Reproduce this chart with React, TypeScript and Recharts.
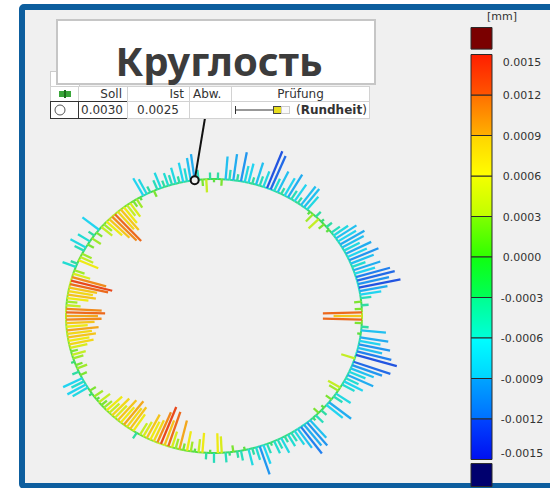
import React from "react";
import {
  ScatterChart,
  Scatter,
  XAxis,
  YAxis,
  ReferenceLine,
  ReferenceArea,
  BarChart,
  Bar,
} from "recharts";

// Abweichung vom Nennkreis [mm], alle 1.5°, im Uhrzeigersinn ab 12 Uhr
const devQ1 = [
  0.0001, -0.0002, 0.0002, -0.0007, -0.0003, -0.0008, -0.0002, -0.0009, -0.0005, -0.0006,
  -0.0002, -0.0007, -0.0003, -0.0005, -0.0012, -0.0011, -0.0004, -0.0007, -0.0002, -0.0006,
  -0.0008, -0.0003, -0.0006, -0.0002, -0.0007, -0.0007, -0.0005, 0.0001, 0.0003, -0.0002,
  0.0004, -0.0001, 0.0002, -0.0002, 0.0001, -0.0003, -0.0005, -0.0007, -0.0006, -0.0008,
  -0.0007, -0.0005, -0.0008, -0.0006, -0.0009, -0.0007, -0.0004, -0.0008, -0.0006, -0.001,
  -0.0011, -0.0009, -0.0012, -0.0008, -0.0006, -0.0003, 0.0002, -0.0002, 0.0002, 0.0011,
];
const devQ2 = [
  0.0008, 0.0011, 0.0002, -0.0002, -0.0007, 0.0001, -0.0008, -0.0006, -0.0009, -0.0007,
  -0.001, -0.0012, 0.0004, -0.0011, -0.0009, -0.0007, -0.0005, -0.0008, -0.0004, -0.0006,
  -0.0004, 0.0004, 0.0003, -0.0005, -0.0003, 0.0002, -0.0008, -0.0006, 0.0001, -0.0002,
  0.0002, -0.0003, -0.0001, -0.0007, -0.0009, -0.0008, -0.001, -0.0007, -0.0005, -0.0003,
  -0.0004, -0.0002, -0.0005, -0.0003, -0.0004, -0.0001, -0.0003, -0.0006, -0.0009, -0.0004,
  -0.0002, -0.0005, 0.0001, -0.0003, -0.0002, 0.0002, -0.0001, -0.0003, 0.0005, 0.0006,
];
const devQ3 = [
  -0.0003, 0.0001, -0.0002, 0.0006, 0.0004, 0.0001, 0.0003, 0.0006, 0.0002, 0.0009,
  0.0003, 0.0005, 0.0011, 0.0008, 0.0012, 0.001, 0.0007, 0.0006, 0.0008, 0.0005,
  0.0004, -0.0002, 0.0006, 0.0008, 0.0007, 0.0009, 0.0006, 0.0008, 0.0005, 0.0007,
  0.0004, 0.0006, 0.0003, 0.0002, 0.0004, 0.0001, 0.0003, -0.0001, 0.0002, -0.0005,
  -0.0006, -0.0004, -0.0006, 0.0002, -0.0002, 0.0003, 0.0002, -0.0001, 0.0003, 0.0004,
  0.0002, 0.0005, 0.0007, 0.0006, 0.0008, 0.0007, 0.0009, 0.0006, 0.0008, 0.001,
];
const devQ4 = [
  0.0009, 0.0011, 0.001, 0.0004, 0.0003, 0.0006, 0.0008, 0.0007, 0.0008, 0.0011,
  0.0012, 0.001, 0.0005, 0.0003, -0.0004, -0.0002, 0.0006, 0.0004, 0.0003, -0.0003,
  -0.0005, 0.0002, -0.0004, 0.0003, -0.0002, 0.0002, -0.0006, 0.0004, 0.0003, 0.0006,
  0.0008, 0.001, 0.0011, 0.0007, 0.0008, 0.0006, 0.0004, 0.0005, 0.0002, 0.0003,
  0.0001, -0.0006, -0.0005, -0.0002, 0.0002, -0.0003, -0.0005, -0.0002, -0.0004, -0.0003,
  -0.0005, -0.0002, -0.0006, -0.0004, -0.0007, -0.0008, -0.0003, 0.0002, 0.0004, -0.0002,
];
const ANGLE_STEP = 1.5;
const PROBE_ANGLE = 352.5;

const scaleTicks = [0.0015, 0.0012, 0.0009, 0.0006, 0.0003, 0, -0.0003, -0.0006, -0.0009, -0.0012, -0.0015];
const SCALE_STEP = 0.0003;
const overRange = [0.00154, 0.0017];
const underRange = [-0.00153, -0.0017];

const tolSoll = "0.0030";
const tolIst = "0.0025";

// layout
const W = 550;
const H = 488;
const PLOT_W = 450;
const CX = 214;
const CY = 316;
const RX = 148;
const RY = 137;
const GAIN = 240;
const ZERO_Y = 257;
const STEP_PX = 40.5;
const FONT = "'DejaVu Sans', Verdana, sans-serif";

const spikeStops: [number, string][] = [
  [0.0012, "#e8481c"],
  [0.001, "#f08a1c"],
  [0.0008, "#f4c41c"],
  [0.0006, "#eeea14"],
  [0.0004, "#c4ee24"],
  [0.0002, "#7ce432"],
  [0, "#3edc52"],
  [-0.0002, "#2edca4"],
  [-0.0004, "#22dcd2"],
  [-0.0006, "#22d4f0"],
  [-0.0008, "#22acf0"],
  [-0.001, "#2280ee"],
  [-0.0012, "#2254e0"],
];

const segColors = [
  ["#ff1e00", "#ff5500"],
  ["#ff7000", "#ffb000"],
  ["#ffd400", "#ffff00"],
  ["#f4ff00", "#c0ff00"],
  ["#80ff00", "#30ff00"],
  ["#10ff10", "#00ff58"],
  ["#00ff90", "#00ffd8"],
  ["#00ffff", "#00d4ff"],
  ["#00a4ff", "#0070ff"],
  ["#0044ff", "#0010f0"],
];

const toRgb = (h: string) => [1, 3, 5].map((i) => parseInt(h.slice(i, i + 2), 16));

function devColor(d: number) {
  const s = spikeStops;
  if (d >= s[0][0]) return s[0][1];
  if (d <= s[s.length - 1][0]) return s[s.length - 1][1];
  for (let i = 0; i < s.length - 1; i++) {
    const [v0, c0] = s[i];
    const [v1, c1] = s[i + 1];
    if (d <= v0 && d >= v1) {
      const t = (v0 - d) / (v0 - v1);
      const a = toRgb(c0);
      const b = toRgb(c1);
      return `rgb(${a.map((x, k) => Math.round(x + (b[k] - x) * t)).join(",")})`;
    }
  }
  return s[0][1];
}

const polar = (deg: number, r: number) => {
  const a = (deg * Math.PI) / 180;
  return { x: r * Math.sin(a), y: r * Math.cos(a) };
};

function RoundnessPlot() {
  const deviations = [...devQ1, ...devQ2, ...devQ3, ...devQ4];
  const spikes = deviations.map((d, i) => ({
    d,
    base: polar(i * ANGLE_STEP, 1),
    tip: polar(i * ANGLE_STEP, 1 - GAIN * d),
  }));
  const probe = polar(PROBE_ANGLE, 1);
  const leaderEnd = { x: (205 - CX) / RX, y: (CY - 118) / RY };

  return (
    <ScatterChart width={PLOT_W} height={H} margin={{ top: 0, right: 0, bottom: 0, left: 0 }}>
      <XAxis type="number" dataKey="x" domain={[-CX / RX, (PLOT_W - CX) / RX]} allowDataOverflow hide />
      <YAxis type="number" dataKey="y" domain={[(CY - H) / RY, CY / RY]} allowDataOverflow hide />
      {spikes.map((s, i) => {
        const n = spikes[(i + 1) % spikes.length];
        return (
          <ReferenceLine
            key={`r${i}`}
            segment={[s.base, n.base]}
            stroke={devColor((s.d + n.d) * 0.18)}
            strokeWidth={2}
          />
        );
      })}
      {spikes.map((s, i) => (
        <ReferenceLine key={`s${i}`} segment={[s.base, s.tip]} stroke={devColor(s.d)} strokeWidth={2.3} />
      ))}
      <ReferenceLine segment={[probe, leaderEnd]} stroke="#111" strokeWidth={2} />
      <Scatter
        data={[probe]}
        isAnimationActive={false}
        shape={(p: any) => <circle cx={p.cx} cy={p.cy} r={4} fill="#f0f0f0" stroke="#111" strokeWidth={2} />}
      />
    </ScatterChart>
  );
}

function ScaleTick(props: any) {
  const { x, y, payload } = props;
  const v = payload.value as number;
  const nudge = v >= 0.0015 ? 7 : v <= -0.0015 ? -7 : 0;
  return (
    <text x={x + 30} y={y + nudge} dy={4} textAnchor="middle" fontFamily={FONT} fontSize={11} fill="#333">
      {v.toFixed(4)}
    </text>
  );
}

function ColorScale() {
  const segments = scaleTicks.slice(0, -1).map((top, i) => ({
    key: `seg${i}`,
    top,
    value: top > 0 ? SCALE_STEP : -SCALE_STEP,
    colors: segColors[i],
  }));
  const order = [...segments].sort(
    (a, b) => Math.abs(a.top - SCALE_STEP / 2) - Math.abs(b.top - SCALE_STEP / 2)
  );
  const row: any = { name: "mm" };
  segments.forEach((s) => (row[s.key] = s.value));
  const yMax = (ZERO_Y / STEP_PX) * SCALE_STEP;
  const yMin = yMax - (H / STEP_PX) * SCALE_STEP;

  return (
    <BarChart
      width={100}
      height={H}
      data={[row]}
      stackOffset="sign"
      barCategoryGap={0}
      margin={{ top: 0, right: 0, bottom: 0, left: 21 }}
    >
      <defs>
        {segments.map((s) => (
          <linearGradient key={s.key} id={`g-${s.key}`} x1="0" y1="0" x2="0" y2="1">
            <stop offset="0%" stopColor={s.colors[0]} />
            <stop offset="100%" stopColor={s.colors[1]} />
          </linearGradient>
        ))}
      </defs>
      <XAxis dataKey="name" hide />
      <YAxis
        orientation="right"
        type="number"
        domain={[yMin, yMax]}
        allowDataOverflow
        ticks={scaleTicks}
        interval={0}
        width={58}
        axisLine={false}
        tickLine={false}
        tickSize={0}
        tickMargin={0}
        tick={(p: any) => <ScaleTick {...p} />}
      />
      {order.map((s) => (
        <Bar
          key={s.key}
          dataKey={s.key}
          stackId="scale"
          fill={`url(#g-${s.key})`}
          stroke="#2a2a2a"
          strokeWidth={1}
          isAnimationActive={false}
        />
      ))}
      <ReferenceArea y1={overRange[0]} y2={overRange[1]} fill="#7a0000" fillOpacity={1} stroke="#2a2a2a" ifOverflow="visible" />
      <ReferenceArea y1={underRange[0]} y2={underRange[1]} fill="#00006e" fillOpacity={1} stroke="#2a2a2a" ifOverflow="visible" />
    </BarChart>
  );
}

const cellBase: React.CSSProperties = {
  position: "absolute",
  boxSizing: "border-box",
  border: "1px solid #d2d2d2",
  background: "#fff",
  display: "flex",
  alignItems: "center",
  fontFamily: FONT,
  fontSize: 12,
  color: "#333",
  whiteSpace: "nowrap",
};

function Cell({ x0, x1, y0, y1, style, children }: any) {
  return (
    <div style={{ ...cellBase, left: x0, top: y0, width: x1 - x0 + 1, height: y1 - y0 + 1, ...style }}>
      {children}
    </div>
  );
}

function ToleranceTable() {
  const c = [50, 78, 127, 189, 231, 369];
  const r = [86, 101, 118];
  return (
    <>
      <Cell x0={c[0]} x1={c[1]} y0={r[0]} y1={r[1]} style={{ justifyContent: "center" }}>
        <svg width={12} height={8}>
          <rect x={0} y={1} width={12} height={6} fill="#3aa63a" />
          <rect x={5} y={0} width={2} height={8} fill="#1d6e1d" />
        </svg>
      </Cell>
      <Cell x0={c[1]} x1={c[2]} y0={r[0]} y1={r[1]} style={{ justifyContent: "flex-end", paddingRight: 5 }}>
        Soll
      </Cell>
      <Cell x0={c[2]} x1={c[3]} y0={r[0]} y1={r[1]} style={{ justifyContent: "flex-end", paddingRight: 5 }}>
        Ist
      </Cell>
      <Cell x0={c[3]} x1={c[4]} y0={r[0]} y1={r[1]} style={{ paddingLeft: 3 }}>
        Abw.
      </Cell>
      <Cell x0={c[4]} x1={c[5]} y0={r[0]} y1={r[1]} style={{ justifyContent: "center" }}>
        Prüfung
      </Cell>

      <Cell x0={c[0]} x1={c[1]} y0={r[1]} y1={r[2]} style={{ border: "1px solid #333", paddingLeft: 3 }}>
        <svg width={12} height={12}>
          <circle cx={6} cy={6} r={5} fill="#fff" stroke="#555" strokeWidth={1} />
        </svg>
      </Cell>
      <Cell x0={c[1]} x1={c[2]} y0={r[1]} y1={r[2]} style={{ border: "1px solid #333", paddingLeft: 2 }}>
        {tolSoll}
      </Cell>
      <Cell x0={c[2]} x1={c[3]} y0={r[1]} y1={r[2]} style={{ paddingLeft: 9 }}>
        {tolIst}
      </Cell>
      <Cell x0={c[3]} x1={c[4]} y0={r[1]} y1={r[2]} />
      <Cell x0={c[4]} x1={c[5]} y0={r[1]} y1={r[2]} style={{ paddingLeft: 3 }}>
        <svg width={56} height={10}>
          <line x1={0.5} y1={1} x2={0.5} y2={9} stroke="#333" strokeWidth={1} />
          <line x1={0} y1={5} x2={38} y2={5} stroke="#333" strokeWidth={1} />
          <rect x={38.5} y={1.5} width={8} height={7} fill="#e6dc1e" stroke="#444" strokeWidth={1} />
          <rect x={46.5} y={1.5} width={8} height={7} fill="#fafafa" stroke="#ccc" strokeWidth={1} />
        </svg>
        <span style={{ marginLeft: 5 }}>
          (<b>Rundheit</b>)
        </span>
      </Cell>
    </>
  );
}

export default function App() {
  return (
    <div style={{ position: "absolute", left: 0, top: 0, width: W, height: H, overflow: "hidden", background: "#fff" }}>
      <div
        style={{
          position: "absolute",
          left: 19,
          top: 4,
          width: 560,
          height: 485,
          boxSizing: "border-box",
          border: "6px solid #0d5e9e",
          borderRadius: 5,
          background: "#f0f0f0",
        }}
      />
      <div style={{ position: "absolute", left: 0, top: 0 }}>
        <RoundnessPlot />
      </div>
      <div style={{ position: "absolute", left: 450, top: 0 }}>
        <ColorScale />
      </div>
      <div
        style={{
          position: "absolute",
          left: 482,
          top: 10,
          width: 40,
          textAlign: "center",
          fontFamily: FONT,
          fontSize: 11,
          color: "#333",
        }}
      >
        [mm]
      </div>
      <div
        style={{
          position: "absolute",
          left: 50,
          top: 71,
          width: 30,
          height: 16,
          boxSizing: "border-box",
          border: "1px solid #ccc",
          background: "#fff",
        }}
      />
      <div
        style={{
          position: "absolute",
          left: 56,
          top: 19,
          width: 320,
          height: 66,
          boxSizing: "border-box",
          border: "2px solid #c6c6c6",
          background: "#fff",
        }}
      />
      <div
        style={{
          position: "absolute",
          left: 56,
          top: 41,
          width: 320,
          paddingLeft: 6,
          boxSizing: "border-box",
          height: 40,
          lineHeight: "40px",
          textAlign: "center",
          fontFamily: "'Noto Sans', 'Open Sans', sans-serif",
          fontWeight: 700,
          fontSize: 40,
          color: "#3c3c3c",
        }}
      >
        Круглость
      </div>
      <ToleranceTable />
    </div>
  );
}
